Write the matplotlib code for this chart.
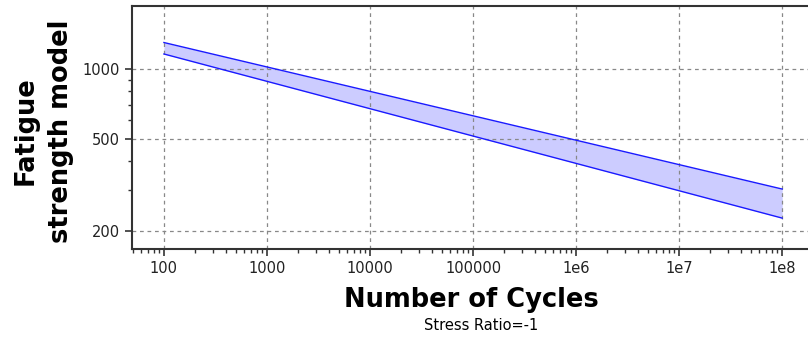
import numpy as np
import matplotlib
matplotlib.use("Agg")
import matplotlib.pyplot as plt
import matplotlib.ticker as ticker

# data
cycles = [1e2, 1e8]
upper = [1300, 303]
lower = [1160, 227]

x_ticks = [1e2, 1e3, 1e4, 1e5, 1e6, 1e7, 1e8]
x_labels = ['100', '1000', '10000', '100000', '1e6', '1e7', '1e8']
y_ticks = [200, 500, 1000]
y_labels = ['200', '500', '1000']

W, H = 808, 347
fig = plt.figure(figsize=(W/100, H/100), dpi=100)
ax = fig.add_axes([132/W, 1-249/H, 1-132/W, (249-6)/H])

ax.fill_between(cycles, lower, upper, color='#ccccff', lw=0)
ax.plot(cycles, upper, color='#1a1aff', lw=1)
ax.plot(cycles, lower, color='#1a1aff', lw=1)

ax.set_xscale('log')
ax.set_yscale('log')
ax.set_xlim(49, 1.78e8)
ax.set_ylim(167, 1869)

ax.set_xticks(x_ticks)
ax.set_xticklabels(x_labels)
ax.xaxis.set_minor_locator(ticker.LogLocator(base=10, subs=np.arange(2, 10)))
ax.xaxis.set_minor_formatter(ticker.NullFormatter())
ax.set_yticks(y_ticks)
ax.set_yticklabels(y_labels)
ax.yaxis.set_minor_locator(ticker.FixedLocator([300, 400, 600, 700, 800, 900]))
ax.yaxis.set_minor_formatter(ticker.NullFormatter())

ax.grid(True, which='major', ls=(0, (3, 3)), color='#888888', lw=0.9)
ax.tick_params(which='major', length=5, width=1.2, color='#333333', labelsize=10.5, labelcolor='#222222')
ax.tick_params(which='minor', length=3, width=1, color='#333333')

ax.spines['right'].set_visible(False)
for s in ['left', 'bottom', 'top']:
    ax.spines[s].set_color('#333333')
    ax.spines[s].set_linewidth(1.5)

# axis titles placed in pixel coords
fig.text(471/W, 1-300/H, 'Number of Cycles', ha='center', va='center',
         fontsize=18.5, fontweight='bold')
fig.text(43/W, 1-131/H, 'Fatigue\nstrength model', ha='center', va='center',
         rotation=90, fontsize=18.5, fontweight='bold', linespacing=1.45,
         multialignment='center')
fig.text(481/W, 1-325/H, 'Stress Ratio=-1', ha='center', va='center', fontsize=10.5)

plt.savefig('out.png', dpi=100)
